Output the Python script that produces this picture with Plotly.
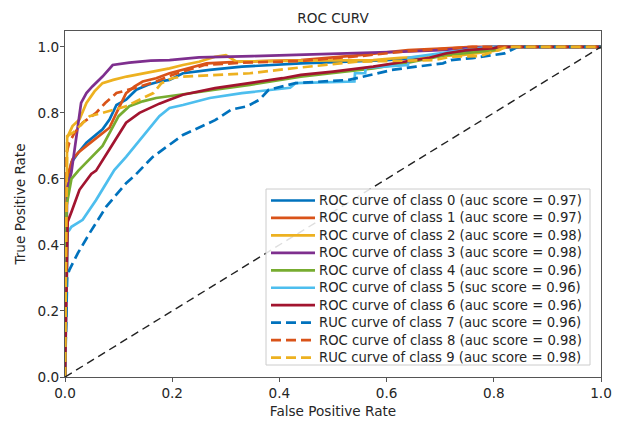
import plotly.graph_objects as go

# ---- data ----
fpr0 = [0, 0.003, 0.012, 0.025, 0.04, 0.055, 0.07, 0.083, 0.096, 0.114, 0.133, 0.155, 0.176, 0.195, 0.22, 0.27, 0.33, 0.44, 0.52, 0.60, 0.68, 0.75, 0.80, 1.0]
tpr0 = [0, 0.58, 0.65, 0.68, 0.71, 0.73, 0.75, 0.78, 0.824, 0.84, 0.87, 0.885, 0.895, 0.90, 0.92, 0.93, 0.94, 0.95, 0.955, 0.96, 0.97, 0.985, 1.0, 1.0]

fpr1 = [0, 0.003, 0.014, 0.025, 0.04, 0.055, 0.07, 0.083, 0.096, 0.105, 0.114, 0.13, 0.145, 0.17, 0.195, 0.23, 0.264, 0.33, 0.44, 0.55, 0.64, 0.70, 0.76, 1.0]
tpr1 = [0, 0.6, 0.66, 0.68, 0.70, 0.72, 0.74, 0.755, 0.80, 0.83, 0.86, 0.88, 0.895, 0.905, 0.92, 0.935, 0.95, 0.955, 0.96, 0.975, 0.99, 0.995, 1.0, 1.0]

fpr2 = [0, 0.004, 0.014, 0.027, 0.04, 0.055, 0.07, 0.09, 0.115, 0.15, 0.195, 0.22, 0.25, 0.28, 0.30, 0.31, 0.32, 0.44, 0.575, 0.625, 0.74, 0.81, 0.82, 1.0]
tpr2 = [0, 0.725, 0.76, 0.78, 0.83, 0.865, 0.89, 0.90, 0.91, 0.92, 0.935, 0.945, 0.955, 0.97, 0.975, 0.965, 0.955, 0.958, 0.96, 0.967, 0.975, 0.99, 1.0, 1.0]

fpr3 = [0, 0.004, 0.012, 0.02, 0.03, 0.04, 0.051, 0.07, 0.089, 0.12, 0.16, 0.195, 0.25, 0.35, 0.45, 0.55, 0.62, 0.70, 0.79, 1.0]
tpr3 = [0, 0.57, 0.62, 0.72, 0.83, 0.86, 0.88, 0.91, 0.945, 0.952, 0.958, 0.96, 0.968, 0.972, 0.976, 0.98, 0.985, 0.99, 1.0, 1.0]

fpr4 = [0, 0.003, 0.012, 0.025, 0.04, 0.055, 0.07, 0.085, 0.10, 0.12, 0.145, 0.17, 0.195, 0.214, 0.28, 0.345, 0.44, 0.575, 0.64, 0.71, 0.80, 0.81, 1.0]
tpr4 = [0, 0.52, 0.60, 0.625, 0.65, 0.675, 0.70, 0.745, 0.79, 0.82, 0.835, 0.845, 0.85, 0.855, 0.87, 0.885, 0.91, 0.935, 0.952, 0.975, 0.99, 1.0, 1.0]

fpr5 = [0, 0.005, 0.008, 0.012, 0.033, 0.046, 0.058, 0.077, 0.092, 0.114, 0.145, 0.176, 0.195, 0.22, 0.27, 0.33, 0.42, 0.43, 0.54, 0.541, 0.56, 0.561, 0.64, 0.641, 0.72, 0.79, 1.0]
tpr5 = [0, 0.44, 0.445, 0.455, 0.476, 0.506, 0.536, 0.587, 0.627, 0.667, 0.728, 0.79, 0.815, 0.824, 0.845, 0.86, 0.876, 0.89, 0.895, 0.92, 0.92, 0.936, 0.945, 0.967, 0.985, 1.0, 1.0]

fpr6 = [0, 0.005, 0.012, 0.027, 0.049, 0.058, 0.083, 0.114, 0.139, 0.158, 0.176, 0.195, 0.22, 0.28, 0.345, 0.406, 0.44, 0.50, 0.575, 0.64, 0.68, 0.71, 0.75, 0.80, 0.81, 1.0]
tpr6 = [0, 0.47, 0.5, 0.567, 0.615, 0.625, 0.69, 0.77, 0.80, 0.815, 0.828, 0.84, 0.855, 0.875, 0.89, 0.905, 0.915, 0.925, 0.94, 0.957, 0.967, 0.98, 0.99, 0.996, 1.0, 1.0]

fpr7 = [0, 0.004, 0.008, 0.024, 0.046, 0.077, 0.114, 0.13, 0.164, 0.22, 0.28, 0.31, 0.34, 0.363, 0.38, 0.43, 0.53, 0.57, 0.61, 0.655, 0.705, 0.72, 0.76, 0.82, 0.845, 1.0]
tpr7 = [0, 0.30, 0.324, 0.375, 0.436, 0.516, 0.587, 0.61, 0.667, 0.733, 0.778, 0.81, 0.82, 0.84, 0.87, 0.89, 0.90, 0.915, 0.93, 0.94, 0.95, 0.96, 0.966, 0.98, 1.0, 1.0]

fpr8 = [0, 0.003, 0.008, 0.018, 0.033, 0.058, 0.075, 0.096, 0.14, 0.17, 0.2, 0.26, 0.33, 0.44, 0.55, 0.64, 0.70, 0.76, 1.0]
tpr8 = [0, 0.68, 0.71, 0.74, 0.77, 0.80, 0.83, 0.86, 0.88, 0.895, 0.915, 0.945, 0.952, 0.957, 0.972, 0.987, 0.993, 1.0, 1.0]

fpr9 = [0, 0.004, 0.015, 0.027, 0.046, 0.07, 0.114, 0.139, 0.165, 0.18, 0.2, 0.22, 0.345, 0.43, 0.545, 0.69, 0.72, 0.775, 0.82, 0.83, 1.0]
tpr9 = [0, 0.73, 0.74, 0.76, 0.79, 0.80, 0.82, 0.84, 0.86, 0.89, 0.905, 0.91, 0.92, 0.936, 0.955, 0.96, 0.97, 0.972, 0.997, 1.0, 1.0]

labels = [
    "ROC curve of class 0 (auc score = 0.97)",
    "ROC curve of class 1 (auc score = 0.97)",
    "ROC curve of class 2 (auc score = 0.98)",
    "ROC curve of class 3 (auc score = 0.98)",
    "ROC curve of class 4 (auc score = 0.96)",
    "ROC curve of class 5 (suc score = 0.96)",
    "ROC curve of class 6 (auc score = 0.96)",
    "RUC curve of class 7 (auc score = 0.96)",
    "ROC curve of class 8 (auc score = 0.98)",
    "RUC curve of class 9 (auc score = 0.98)",
]
colors = ["#0072BD", "#D95319", "#EDB120", "#7E2F8E", "#77AC30",
          "#4DBEEE", "#A2142F", "#0072BD", "#D95319", "#EDB120"]
dashes = ["solid"] * 7 + ["10px,5px"] * 3

xs = [fpr0, fpr1, fpr2, fpr3, fpr4, fpr5, fpr6, fpr7, fpr8, fpr9]
ys = [tpr0, tpr1, tpr2, tpr3, tpr4, tpr5, tpr6, tpr7, tpr8, tpr9]

diag = [0, 1]

# ---- layout geometry (pixels); the page body adds an 8px offset ----
OFF = 8
W, H = 631 - OFF, 422 - OFF
ML, MT = 65 - OFF, 31 - OFF
MR, MB = 30, 45
PW, PH = W - ML - MR, H - MT - MB


def px_x(p):  # absolute screen x -> paper coordinate
    return (p - OFF - ML) / PW


def px_y(p):  # absolute screen y -> paper coordinate
    return (OFF + H - MB - p) / PH


fig = go.Figure()
for x, y, lab, c, d in zip(xs, ys, labels, colors, dashes):
    fig.add_trace(go.Scatter(x=x, y=y, mode="lines", name=lab, showlegend=False,
                             line=dict(color=c, width=2.7, dash=d)))
fig.add_trace(go.Scatter(x=diag, y=diag, mode="lines", showlegend=False,
                         line=dict(color="#222222", width=1.4, dash="8px,5px")))

# ---- legend box drawn as layout shapes + text ----
shapes = [dict(type="rect", xref="paper", yref="paper",
               x0=px_x(266), x1=px_x(590), y0=px_y(365), y1=px_y(189),
               fillcolor="rgba(255,255,255,0.85)", line=dict(color="#cccccc", width=1),
               layer="above")]
annotations = []
row0, step = 200.5, 17.45
for i, (lab, c, d) in enumerate(zip(labels, colors, dashes)):
    yy = px_y(row0 + i * step)
    shapes.append(dict(type="line", xref="paper", yref="paper",
                       x0=px_x(271), x1=px_x(315), y0=yy, y1=yy,
                       line=dict(color=c, width=2.7, dash=d), layer="above"))
    annotations.append(dict(text=lab, xref="paper", yref="paper", x=px_x(317), y=yy,
                            xanchor="left", yanchor="middle", showarrow=False,
                            font=dict(family="DejaVu Sans", size=13.2, color="#262626")))

font = dict(family="DejaVu Sans", size=13.6, color="#262626")
axis_common = dict(
    showgrid=False, zeroline=False, showline=True, mirror=True, automargin=False,
    linecolor="#555555", linewidth=1.3, ticks="outside", ticklen=4,
    tickcolor="#555555", tickwidth=1.2, tickfont=font,
)

fig.update_layout(
    width=W, height=H,
    margin=dict(l=ML, r=MR, t=MT, b=MB, autoexpand=False),
    paper_bgcolor="white", plot_bgcolor="white",
    font=font,
    title=dict(text="ROC CURV", xref="paper", x=0.5, xanchor="center",
               y=1 - (18 - OFF) / H, yanchor="middle",
               font=dict(family="DejaVu Sans", size=13.6, color="#262626")),
    xaxis=dict(range=[0, 1], tickvals=[0, 0.2, 0.4, 0.6, 0.8, 1.0],
               ticktext=["0.0", "0.2", "0.4", "0.6", "0.8", "1.0"],
               title=dict(text="False Positive Rate", font=font, standoff=6),
               **axis_common),
    yaxis=dict(range=[0, 1.048], tickvals=[0, 0.2, 0.4, 0.6, 0.8, 1.0],
               ticktext=["0.0", "0.2", "0.4", "0.6", "0.8", "1.0"],
               ticklabelstandoff=-2,
               title=dict(text="True Positive Rate", font=font, standoff=8),
               **axis_common),
    shapes=shapes,
    annotations=annotations,
    showlegend=False,
)

fig.write_html("out.html")
